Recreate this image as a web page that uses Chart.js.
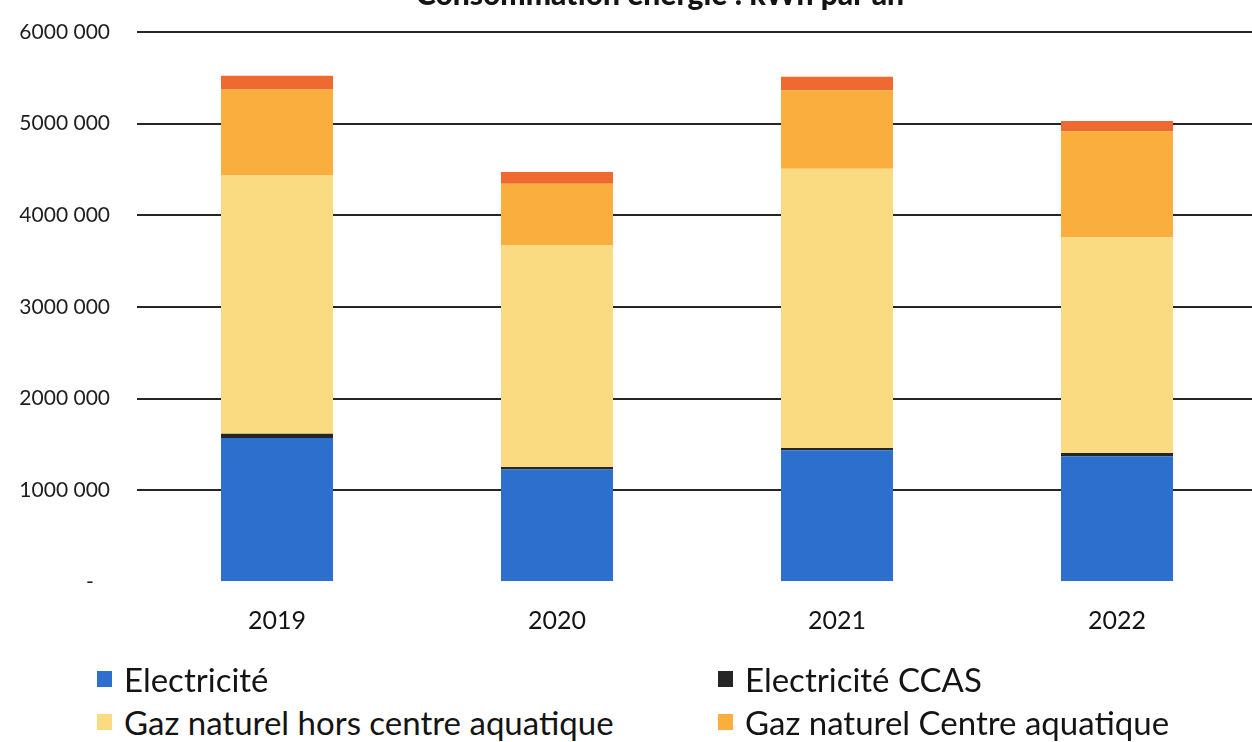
<!DOCTYPE html>
<html>
<head>
<meta charset="utf-8">
<script src="https://cdn.jsdelivr.net/npm/chart.js@4/dist/chart.umd.min.js"></script>
<style>
  html, body { margin: 0; padding: 0; background: #fff; overflow: hidden; }
  #wrap { position: relative; width: 1252px; height: 742px; overflow: hidden; }
  #chart { position: absolute; left: 0; top: 0; }
  .leg { position: absolute; font-family: Lato, "Open Sans", sans-serif; font-size: 33px; color: #141414; white-space: nowrap; line-height: 34px; }
  .leg i { position: absolute; left: -27px; top: 9px; width: 15px; height: 16px; }
</style>
</head>
<body>
<div id="wrap">
  <canvas id="chart" width="1257" height="671"></canvas>
</div>
<script>
// Données (kWh)
const years = ["2019", "2020", "2021", "2022"];
const electricite = [1572000, 1226000, 1438000, 1372000];
const electriciteCcas = [45000, 29000, 25000, 36000];
const gazHorsCa = [2818000, 2415000, 3046000, 2352000];
const gazCa = [938000, 675000, 856000, 1157000];
const gazCcas = [149000, 127000, 146000, 113000];

const seriesNames = ["Electricité", "Electricité CCAS", "Gaz naturel hors centre aquatique", "Gaz naturel Centre aquatique", "Gaz naturel CCAS"];
const seriesColors = ["#2c6fcd", "#262626", "#fbdb82", "#faae3e", "#ee6a30"];
const yTicks = [0, 1000000, 2000000, 3000000, 4000000, 5000000, 6000000];
const chartTitle = "Consommation énergie : kWh par an";

const allSeries = [electricite, electriciteCcas, gazHorsCa, gazCa, gazCcas];

// Titre (coupé en haut dans l'original)
const titlePlugin = {
    id: "cutTitle",
    afterDraw(chart) {
        const c = chart.ctx;
        c.save();
        c.font = "900 30px Lato, sans-serif";
        c.fillStyle = "#141414";
        c.textAlign = "center";
        c.textBaseline = "alphabetic";
        c.fillText(chartTitle, 660, 5);
        c.restore();
    }
};

new Chart(document.getElementById("chart"), {
    type: "bar",
    data: {
        labels: years,
        datasets: allSeries.map((vals, i) => ({
            label: seriesNames[i],
            data: vals,
            backgroundColor: seriesColors[i],
            borderWidth: 0,
            barPercentage: 0.4,
            categoryPercentage: 1
        }))
    },
    options: {
        responsive: false,
        animation: false,
        layout: { padding: { top: 32, right: 0, bottom: 19, left: 0 } },
        plugins: {
            legend: { display: false },
            title: { display: false },
            tooltip: { enabled: false }
        },
        scales: {
            x: {
                stacked: true,
                grid: { display: false },
                border: { display: false },
                ticks: {
                    padding: 16,
                    color: "#141414",
                    font: { family: "Lato, sans-serif", size: 25 }
                }
            },
            y: {
                stacked: true,
                min: 0,
                max: 6000000,
                afterFit: s => { s.width = 137; },
                afterBuildTicks: s => { s.ticks = yTicks.map(v => ({ value: v })); },
                border: { display: false },
                grid: {
                    drawTicks: false,
                    lineWidth: 2,
                    color: c => c.tick && c.tick.value === 0 ? "rgba(0,0,0,0)" : "#262626"
                },
                ticks: {
                    padding: 27,
                    color: "#1e1e1e",
                    font: { family: "Lato, sans-serif", size: 21, lineHeight: 0.2 },
                    callback: v => v === 0 ? "-   " : (v / 1000000) + "000 000"
                }
            }
        }
    },
    plugins: [titlePlugin]
});

// Légende en deux colonnes (la dernière ligne sort du cadre)
const legPos = [[124, 662], [745, 662], [124, 705], [745, 705], [124, 748]];
const wrap = document.getElementById("wrap");
seriesNames.forEach((name, i) => {
    const d = document.createElement("div");
    d.className = "leg";
    d.style.left = legPos[i][0] + "px";
    d.style.top = legPos[i][1] + "px";
    d.innerHTML = `<i style="background:${seriesColors[i]}"></i>${name}`;
    wrap.appendChild(d);
});
</script>
</body>
</html>
